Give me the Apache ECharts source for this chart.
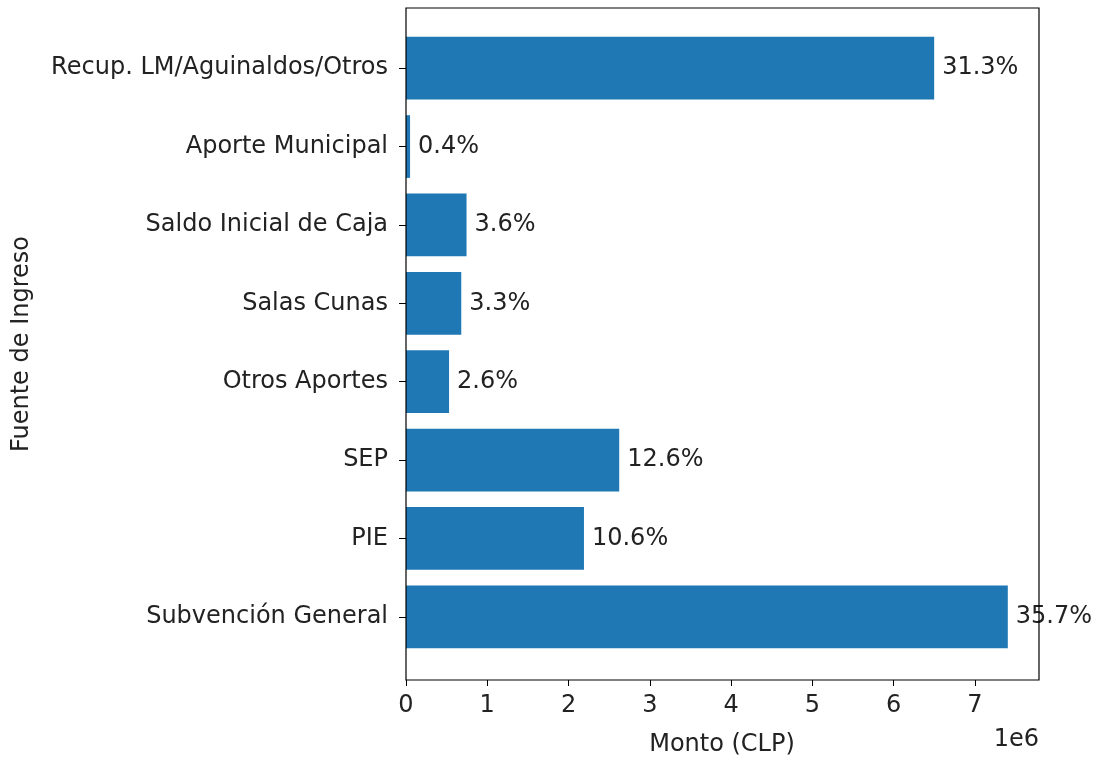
<!DOCTYPE html>
<html>
<head>
<meta charset="utf-8">
<script src="https://cdn.jsdelivr.net/npm/echarts@6/dist/echarts.min.js"></script>
<style>
    html, body { margin: 0; padding: 0; background: #fff; }
    #chart { width: 1097px; height: 761px; }
</style>
</head>
<body>
<div id="chart"></div>
<script>
// categories from bottom to top (same order as the y axis)
let categories = ['Subvención General', 'PIE', 'SEP', 'Otros Aportes', 'Salas Cunas',
    'Saldo Inicial de Caja', 'Aporte Municipal', 'Recup. LM/Aguinaldos/Otros']
// monto en CLP
let montos = [7406000, 2190000, 2624000, 530000, 680000, 745000, 50000, 6500000]
// etiquetas de porcentaje
let porcentajes = ['35.7%', '10.6%', '12.6%', '2.6%', '3.3%', '3.6%', '0.4%', '31.3%']
let xTicks = [0, 1e6, 2e6, 3e6, 4e6, 5e6, 6e6, 7e6]

const FONT = 'DejaVu Sans'
const FS = 24
const TXT = '#222'

let chart = echarts.init(document.getElementById('chart'))

let options = {
    animation: false,
    textStyle: { fontFamily: FONT },
    grid: [
        // barras
        { left: 406, right: 58, top: 29, bottom: 105 },
        // marco
        { left: 406, right: 58, top: 8, bottom: 81, show: true, borderColor: '#000', borderWidth: 1.2, backgroundColor: 'transparent', z: 5 }
    ],
    xAxis: [
        {
            gridIndex: 0,
            type: 'value',
            min: 0,
            max: 7790000,
            offset: 24,
            splitLine: { show: false },
            axisLine: { show: false },
            axisTick: { show: true, length: 6, lineStyle: { color: '#000' }, customValues: xTicks },
            axisLabel: {
                customValues: xTicks,
                formatter: v => String(v / 1e6),
                color: TXT, fontSize: FS, fontFamily: FONT, margin: 14
            }
        },
        { gridIndex: 1, type: 'value', show: false, min: 0, max: 1 }
    ],
    yAxis: [
        {
            gridIndex: 0,
            type: 'category',
            data: categories,
            axisLine: { show: false },
            axisTick: { show: true, alignWithLabel: true, length: 7, lineStyle: { color: '#000' } },
            axisLabel: { color: TXT, fontSize: FS, fontFamily: FONT, margin: 18 }
        },
        { gridIndex: 1, type: 'value', show: false, min: 0, max: 1 }
    ],
    series: [{
        type: 'bar',
        xAxisIndex: 0,
        yAxisIndex: 0,
        data: montos,
        barWidth: '80%',
        itemStyle: { color: '#1f77b4' },
        label: {
            show: true,
            position: 'right',
            distance: 8,
            color: TXT,
            fontSize: FS,
            fontFamily: FONT,
            formatter: p => porcentajes[p.dataIndex]
        }
    }],
    graphic: [
        {
            type: 'text', x: 722, y: 745,
            style: { text: 'Monto (CLP)', fontSize: FS, fontFamily: FONT, fill: TXT, align: 'center', verticalAlign: 'middle' }
        },
        {
            type: 'text', x: 1039, y: 740,
            style: { text: '1e6', fontSize: FS, fontFamily: FONT, fill: TXT, align: 'right', verticalAlign: 'middle' }
        },
        {
            type: 'text', x: 22, y: 344, rotation: Math.PI / 2,
            style: { text: 'Fuente de Ingreso', fontSize: FS, fontFamily: FONT, fill: TXT, align: 'center', verticalAlign: 'middle' }
        }
    ]
}

chart.setOption(options)
</script>
</body>
</html>
